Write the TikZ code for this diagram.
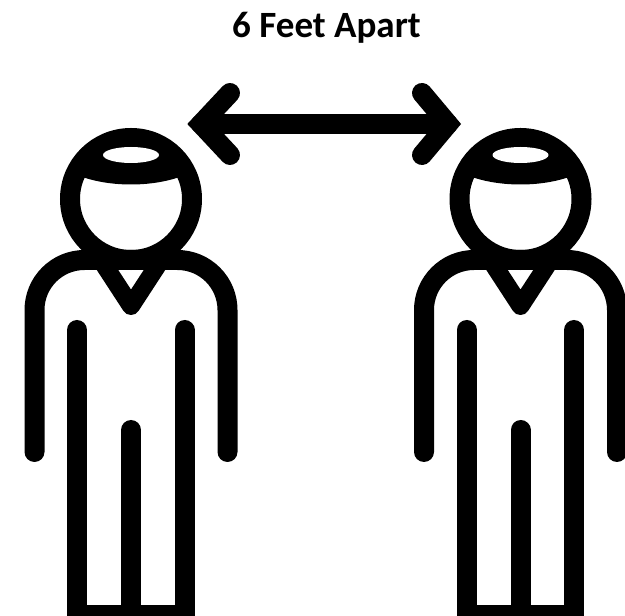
\documentclass[tikz,border=0pt]{standalone}
\usepackage{fontspec}
\setmainfont{Carlito}
\tikzset{
  px/.style={x=0.75pt,y=-0.75pt},
  figline/.style={draw=black,line width=15pt,line cap=round,line join=round},
  figfill/.style={fill=black,draw=none},
}
\newcommand{\person}[1]{%
\begin{scope}[shift={(#1,0)}]
  \draw[draw=black,line width=15pt] (0,199) circle (61);
  \begin{scope}
    \clip (0,199) circle (61);
    \fill[figfill] (-62,171) .. controls (-30,189) and (30,189) .. (62,171) -- (62,130) -- (-62,130) -- cycle;
  \end{scope}
  \fill[white] (0,155) ellipse (28 and 8);
  \draw[figline] (-96.5,452) -- (-96.5,310) arc[start angle=180,end angle=270,radius=50] -- (46.5,260) arc[start angle=270,end angle=360,radius=50] -- (96.5,452);
  \draw[figline,line width=13.5pt] (-30,260) -- (0,306) -- (30,260);
  \draw[figline] (-54,330) -- (-54,620);
  \draw[figline] (53.5,330) -- (53.5,620);
  \draw[figline] (0,430) -- (0,620);
  \fill[figfill] (-64,605) rectangle (63.5,616);
\end{scope}}
\begin{document}
\begin{tikzpicture}[px]
  \useasboundingbox (0,0) rectangle (625,616);
  \fill[white] (0,0) rectangle (625,616);
  \clip (0,0) rectangle (625,616);
  \node[font=\bfseries\fontsize{27.8}{32}\selectfont,text=black] (title) at (326.5,28) {6 Feet Apart};
  \person{131}
  \person{520.5}
  \coordinate (al) at (201,124);
  \coordinate (ar) at (448,124);
  \draw[figline] (al) -- (ar);
  \draw[figline,line join=miter] (230,93) -- (al) -- (230,155);
  \draw[figline,line join=miter] (422,93) -- (ar) -- (422,155);
\end{tikzpicture}
\end{document}
